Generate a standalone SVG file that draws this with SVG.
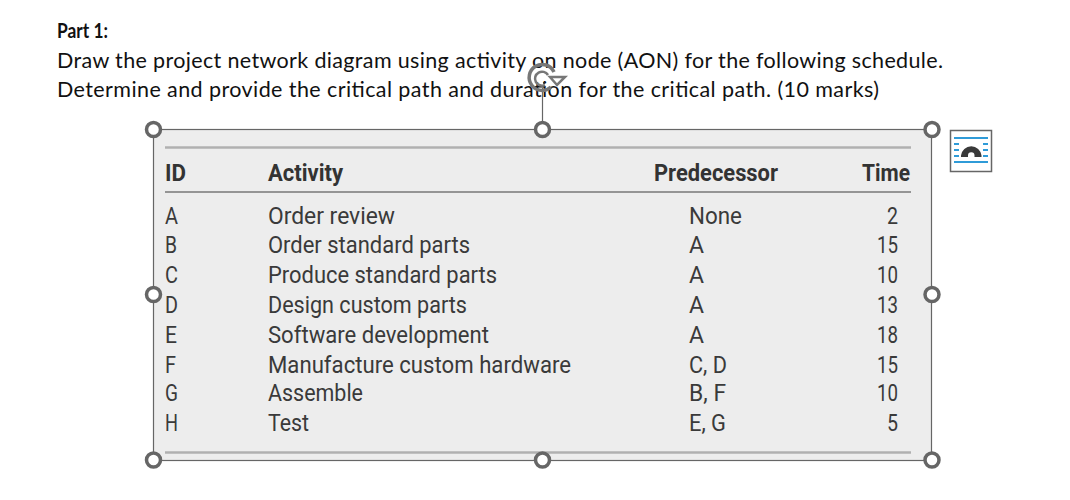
<svg xmlns="http://www.w3.org/2000/svg" width="1070" height="500" viewBox="0 0 1070 500">
<style>
.doc{font-family:"Lato","Open Sans",sans-serif;font-size:21.5px;fill:#111}
.t{font-family:"Roboto","Liberation Sans",sans-serif;font-size:23px;fill:#3a3a3a}
.h{font-family:"Roboto","Liberation Sans",sans-serif;font-size:23px;font-weight:700;fill:#333}
.hd{fill:#fff;stroke:#666;stroke-width:3.5}
.fr{fill:none;stroke:#666;stroke-width:1.2}
.blue{stroke:#2f9bd8;stroke-width:2;fill:none}
.rot{fill:none;stroke:#777}
</style>
<rect width="1070" height="500" fill="#fff"/>
<text class="doc" x="57" y="38" font-weight="700" font-size="20" style="font-size:20px" textLength="51" lengthAdjust="spacingAndGlyphs">Part 1:</text>
<text class="doc" x="57" y="68" textLength="886" lengthAdjust="spacing">Draw the project network diagram using activity on node (AON) for the following schedule.</text>
<text class="doc" x="57" y="97" textLength="822" lengthAdjust="spacing">Determine and provide the critical path and duration for the critical path. (10 marks)</text>

<rect x="153" y="129" width="779" height="331" fill="#ededed"/>
<line x1="165" y1="147.5" x2="911" y2="147.5" stroke="#b0b0b0" stroke-width="2.5"/>
<line x1="165" y1="192" x2="911" y2="192" stroke="#777" stroke-width="1.5"/>
<line x1="165" y1="452.5" x2="911" y2="452.5" stroke="#b0b0b0" stroke-width="2.5"/>

<text class="h" x="165" y="181" textLength="21" lengthAdjust="spacingAndGlyphs">ID</text>
<text class="h" x="268" y="181" textLength="75" lengthAdjust="spacingAndGlyphs">Activity</text>
<text class="h" x="654" y="181" textLength="124" lengthAdjust="spacingAndGlyphs">Predecessor</text>
<text class="h" x="862" y="181" textLength="48" lengthAdjust="spacingAndGlyphs">Time</text>

<text class="t" x="165" y="224" textLength="13" lengthAdjust="spacingAndGlyphs">A</text>
<text class="t" x="165" y="253" textLength="12" lengthAdjust="spacingAndGlyphs">B</text>
<text class="t" x="165" y="283" textLength="13" lengthAdjust="spacingAndGlyphs">C</text>
<text class="t" x="165" y="313" textLength="13" lengthAdjust="spacingAndGlyphs">D</text>
<text class="t" x="165" y="343" textLength="12" lengthAdjust="spacingAndGlyphs">E</text>
<text class="t" x="165" y="373" textLength="11" lengthAdjust="spacingAndGlyphs">F</text>
<text class="t" x="165" y="401" textLength="13" lengthAdjust="spacingAndGlyphs">G</text>
<text class="t" x="165" y="431" textLength="13" lengthAdjust="spacingAndGlyphs">H</text>

<text class="t" x="268" y="224" textLength="127" lengthAdjust="spacingAndGlyphs">Order review</text>
<text class="t" x="268" y="253" textLength="202" lengthAdjust="spacingAndGlyphs">Order standard parts</text>
<text class="t" x="268" y="283" textLength="229" lengthAdjust="spacingAndGlyphs">Produce standard parts</text>
<text class="t" x="268" y="313" textLength="199" lengthAdjust="spacingAndGlyphs">Design custom parts</text>
<text class="t" x="268" y="343" textLength="221" lengthAdjust="spacingAndGlyphs">Software development</text>
<text class="t" x="268" y="373" textLength="303" lengthAdjust="spacingAndGlyphs">Manufacture custom hardware</text>
<text class="t" x="268" y="401" textLength="95" lengthAdjust="spacingAndGlyphs">Assemble</text>
<text class="t" x="268" y="431" textLength="41" lengthAdjust="spacingAndGlyphs">Test</text>

<text class="t" x="689" y="224" textLength="53" lengthAdjust="spacingAndGlyphs">None</text>
<text class="t" x="689" y="253" textLength="15" lengthAdjust="spacingAndGlyphs">A</text>
<text class="t" x="689" y="283" textLength="15" lengthAdjust="spacingAndGlyphs">A</text>
<text class="t" x="689" y="313" textLength="15" lengthAdjust="spacingAndGlyphs">A</text>
<text class="t" x="689" y="343" textLength="15" lengthAdjust="spacingAndGlyphs">A</text>
<text class="t" x="689" y="373" textLength="38" lengthAdjust="spacingAndGlyphs">C, D</text>
<text class="t" x="689" y="401" textLength="37" lengthAdjust="spacingAndGlyphs">B, F</text>
<text class="t" x="689" y="431" textLength="37" lengthAdjust="spacingAndGlyphs">E, G</text>

<text class="t" x="887" y="224" textLength="11" lengthAdjust="spacingAndGlyphs">2</text>
<text class="t" x="877" y="253" textLength="21" lengthAdjust="spacingAndGlyphs">15</text>
<text class="t" x="877" y="283" textLength="21" lengthAdjust="spacingAndGlyphs">10</text>
<text class="t" x="877" y="313" textLength="21" lengthAdjust="spacingAndGlyphs">13</text>
<text class="t" x="877" y="343" textLength="21" lengthAdjust="spacingAndGlyphs">18</text>
<text class="t" x="877" y="373" textLength="21" lengthAdjust="spacingAndGlyphs">15</text>
<text class="t" x="877" y="401" textLength="21" lengthAdjust="spacingAndGlyphs">10</text>
<text class="t" x="887" y="431" textLength="11" lengthAdjust="spacingAndGlyphs">5</text>

<rect class="fr" x="153.5" y="129.5" width="778" height="331"/>
<line class="fr" x1="542.5" y1="88" x2="542.5" y2="123"/>
<circle class="hd" cx="153.5" cy="129.500" r="7"/>
<circle class="hd" cx="542.5" cy="129.500" r="7"/>
<circle class="hd" cx="932" cy="129.500" r="7"/>
<circle class="hd" cx="153.5" cy="294.500" r="7"/>
<circle class="hd" cx="932" cy="294.500" r="7"/>
<circle class="hd" cx="153.5" cy="460" r="7"/>
<circle class="hd" cx="542.5" cy="460" r="7"/>
<circle class="hd" cx="932" cy="460" r="7"/>

<g id="rotate-handle">
<path class="rot" stroke-width="3.500" d="M554 72 A13 13 0 1 0 551 87"/>
<path class="rot" stroke-width="2.500" d="M548 75 A7 7 0 1 0 545 85"/>
<circle cx="544" cy="83" r="1" fill="#222"/>
<path class="rot" stroke-width="2.500" d="M550 77 L565 77 L557 85 Z"/>
</g>

<g id="layout-options">
<rect x="950.500" y="130.500" width="41" height="41" fill="#fff" stroke="#666" stroke-width="1.500"/>
<path class="blue" d="M954 138h34M954 162h34M954 144h5M983 144h5M954 150h5M983 150h5M954 156h5M983 156h5"/>
<path d="M961 157 L961 155.500 A10.300 10.300 0 0 1 981.500 155.500 L981.500 157 L974.500 157 L974.500 155.500 A3.200 3.200 0 0 0 968 155.500 L968 157 Z" fill="#3a3a3a"/>
</g>
</svg>
